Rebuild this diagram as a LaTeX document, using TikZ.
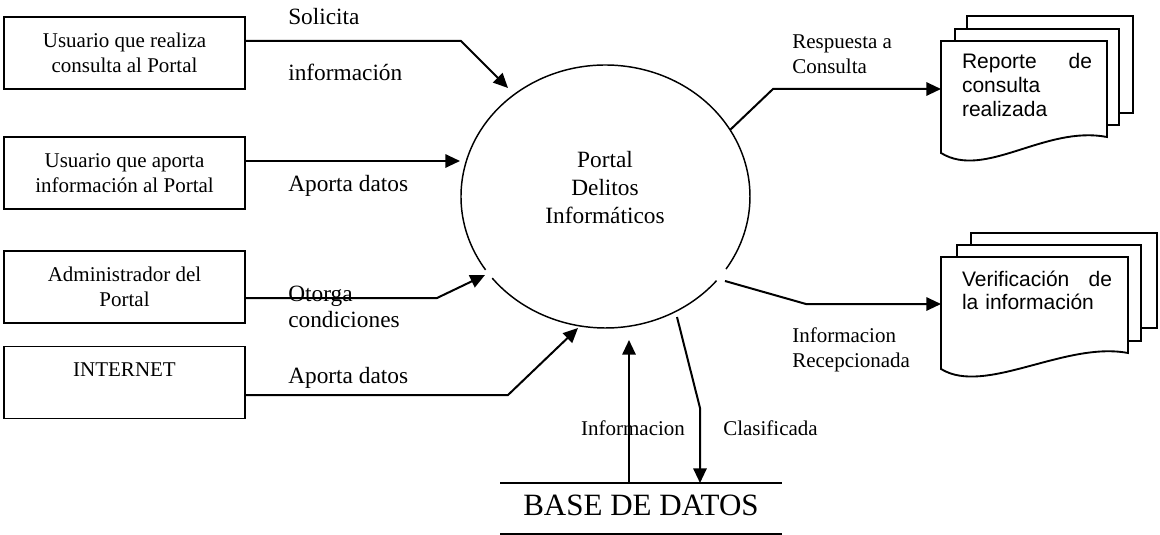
\documentclass[tikz,border=0pt]{standalone}
\usepackage{fontspec}
\setmainfont{Liberation Serif}
\newfontfamily\arialfont{Liberation Sans}
\usetikzlibrary{arrows.meta}
\begin{document}
\begin{tikzpicture}[x=0.75pt,y=-0.75pt,
  box/.style={draw,line width=1.4pt,minimum width=180.75pt,minimum height=54pt,inner sep=0pt,align=center,font=\fontsize{15.75}{18.75}\selectfont},
  flow/.style={line width=1.5pt,line join=miter,-{Triangle[length=11pt,width=10pt]}},
  plain/.style={line width=1.5pt,line join=miter},
  lbl/.style={inner sep=0pt,anchor=west,align=left,font=\fontsize{17.5}{19.5}\selectfont},
  slbl/.style={inner sep=0pt,align=left,font=\fontsize{15.75}{19}\selectfont},
  doc/.style={draw,line width=1.4pt,fill=white,line join=miter},
  doctxt/.style={inner sep=0pt,align=left,font=\arialfont\fontsize{15.75}{18}\selectfont}]

\useasboundingbox (0,0) rectangle (1160,535);

% external entities
\node[box] (b1) at (124.5,53) {Usuario que realiza\\consulta al Portal};
\node[box] (b2) at (124.5,173) {Usuario que aporta\\información al Portal};
\node[box] (b3) at (124.5,287) {Administrador del\\Portal};
\node[box] (b4) at (124.5,382.5) {INTERNET\\\mbox{}};

% process
\coordinate (pc) at (605.5,196.5);
\node[inner sep=0pt,align=center,font=\fontsize{17.5}{21}\selectfont] (portal) at (605,188) {Portal\\Delitos\\Informáticos};
\draw[line width=1.1pt] (pc) ++(39.8:144.5 and 131.5) arc[start angle=39.8,end angle=141.6,x radius=144.5,y radius=131.5];
\draw[line width=1.1pt] (pc) ++(146.1:144.5 and 131.5) arc[start angle=146.1,end angle=393.5,x radius=144.5,y radius=131.5];

% documents
\draw[doc] (967,16) rectangle (1133,113);
\draw[doc] (955,29) rectangle (1119,125);
\draw[doc] (941,41) -- (1107,41) -- (1107,137) .. controls (1045,125) and (985,180) .. (941,153) -- cycle;
\node[doctxt,text width=97.5pt] (doc1) at (1027,85.4) {\hbox to 97.5pt{Reporte\hfill de}\\consulta\\realizada};

\draw[doc] (971,233) rectangle (1157,328);
\draw[doc] (957,245) rectangle (1141,341);
\draw[doc] (941,257) -- (1128,257) -- (1128,353) .. controls (1065,341) and (985,396) .. (941,369) -- cycle;
\node[doctxt,text width=112.5pt,font=\arialfont\fontsize{15.75}{17.25}\selectfont] (doc2) at (1037,290) {\hbox to 112.5pt{Verificación\hfill de}\\la información};

% data store
\node[inner sep=0pt,font=\fontsize{23.25}{26}\selectfont] (db) at (641,505) {BASE DE DATOS};
\coordinate (dbl) at (500,483);
\coordinate (dbr) at (782,483);
\draw[line width=1.3pt] (dbl) -- (dbr);
\draw[line width=1.3pt] (500,534) -- (782,534);

% flows in
\coordinate (c1) at (461,41);  \coordinate (t1) at (508,88);
\coordinate (t2) at (460,161);
\coordinate (c3) at (437,298); \coordinate (t3) at (485,275);
\coordinate (c4) at (508,395); \coordinate (t4) at (578,328);
\draw[flow] (b1.east |- c1) -- (c1) -- (t1);
\draw[flow] (b2.east |- t2) -- (t2);
\draw[flow] (b3.east |- c3) -- (c3) -- (t3);
\draw[flow] (b4.east |- c4) -- (c4) -- (t4);

% flows out
\coordinate (s5) at (730,130); \coordinate (c5) at (773,89); \coordinate (t5) at (941,89);
\coordinate (s6) at (725,281); \coordinate (c6) at (806,304); \coordinate (t6) at (941,304);
\draw[flow] (s5) -- (c5) -- (t5);
\draw[flow] (s6) -- (c6) -- (t6);

% data store flows
\coordinate (u1) at (629,483); \coordinate (u2) at (629,340);
\draw[flow] (u1) -- (u2);
\coordinate (d1) at (677,317); \coordinate (d2) at (700,408); \coordinate (d3) at (700,483);
\draw[flow] (d1) -- (d2) -- (d3);

% labels
\node[lbl] (l1a) at (288,17) {Solicita};
\node[lbl] (l1b) at (288,72) {información};
\node[lbl] (l2) at (288,186) {Aporta datos};
\node[lbl,font=\fontsize{17.5}{19.5}\selectfont] (l3) at (288,307) {Otorga\\condiciones};
\node[lbl] (l4) at (288,377.5) {Aporta datos};
\node[slbl,anchor=west] (l5) at (792,54) {Respuesta a\\Consulta};
\node[slbl,anchor=west] (l6) at (792,350) {Informacion\\Recepcionada};
\node[slbl] (l7) at (633,428) {Informacion};
\node[slbl,anchor=west] (l8) at (723,428) {Clasificada};
\end{tikzpicture}
\end{document}
